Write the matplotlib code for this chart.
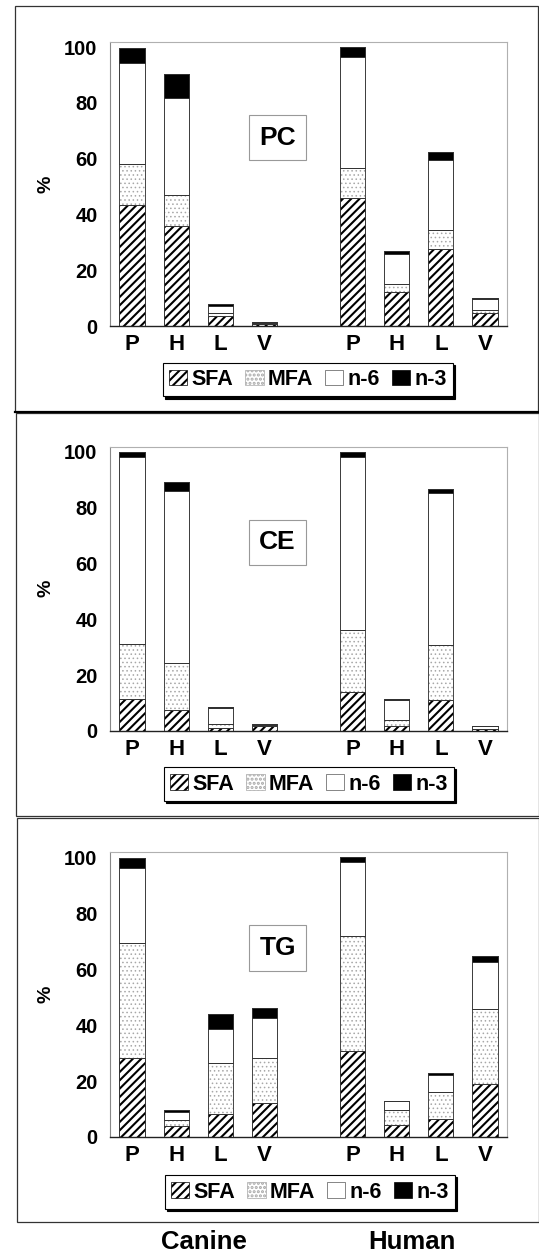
import matplotlib
import matplotlib.pyplot as plt
from matplotlib.patches import Rectangle

matplotlib.use("Agg")

plt.rcParams["font.family"] = ["Liberation Sans", "DejaVu Sans"]
plt.rcParams["font.weight"] = "bold"
plt.rcParams["hatch.linewidth"] = 1.5

# bar labels and positions (gap between species)
bar_labels = ["P", "H", "L", "V", "P", "H", "L", "V"]
bar_x = [0, 1, 2, 3, 5, 6, 7, 8]
species = ["Canine", "Human"]
series = ["SFA", "MFA", "n-6", "n-3"]

# PC (canine P,H,L,V then human P,H,L,V)
pc_sfa = [43.3, 35.9, 3.7, 0.8, 45.8, 12.2, 27.7, 4.5]
pc_mfa = [14.9, 11.2, 0.8, 0.2, 11.0, 2.7, 6.7, 1.2]
pc_n6 = [36.1, 34.6, 2.8, 0.3, 39.6, 10.8, 25.0, 3.8]
pc_n3 = [5.5, 8.5, 0.6, 0.3, 3.6, 1.3, 3.0, 0.4]

# CE
ce_sfa = [11.4, 7.6, 1.2, 1.7, 14.0, 1.7, 11.0, 0.6]
ce_mfa = [19.7, 16.9, 1.4, 0.3, 22.3, 2.4, 19.6, 0.2]
ce_n6 = [66.9, 61.5, 5.8, 0.4, 61.9, 7.1, 54.5, 0.9]
ce_n3 = [1.8, 3.0, 0.2, 0.1, 1.8, 0.4, 1.4, 0.1]

# TG
tg_sfa = [28.1, 3.8, 8.2, 12.2, 30.7, 4.4, 6.6, 19.1]
tg_mfa = [41.1, 2.4, 18.1, 16.0, 41.0, 5.2, 9.6, 26.5]
tg_n6 = [26.9, 2.8, 12.2, 14.2, 26.5, 3.2, 5.9, 17.0]
tg_n3 = [3.7, 0.6, 5.3, 3.8, 1.8, 0.1, 0.8, 1.9]

panels = [
    ("PC", [pc_sfa, pc_mfa, pc_n6, pc_n3]),
    ("CE", [ce_sfa, ce_mfa, ce_n6, ce_n3]),
    ("TG", [tg_sfa, tg_mfa, tg_n6, tg_n3]),
]

W, H = 539, 1259
fig = plt.figure(figsize=(W / 100, H / 100), dpi=100)


def px_rect(x0, y0, x1, y1):
    # pixel box (top-left origin) -> figure fraction [l, b, w, h]
    return [x0 / W, 1 - y1 / H, (x1 - x0) / W, (y1 - y0) / H]


ax_boxes = [(110, 42, 507, 326), (110, 446.5, 507, 731), (110, 852, 507, 1137)]
frame_boxes = [(15, 6, 538, 412), (16, 413, 539, 816), (17, 818, 539, 1222)]
legend_centers = [(308, 379.5), (309, 784), (310, 1192)]

styles = [
    dict(color="white", hatch="////", edge="black", hlw=1.5),
    dict(color="white", hatch="....", edge="#a8a8a8", hlw=0.6),
    dict(color="white", hatch=None, edge="#555555", hlw=1.0),
    dict(color="black", hatch=None, edge="black", hlw=1.0),
]

for i, ((name, segs), box, fbox, lc) in enumerate(
        zip(panels, ax_boxes, frame_boxes, legend_centers)):
    fr = Rectangle((fbox[0] / W, 1 - fbox[3] / H), (fbox[2] - fbox[0]) / W,
                   (fbox[3] - fbox[1]) / H, transform=fig.transFigure,
                   fill=False, edgecolor="#333333", linewidth=0.9)
    fig.add_artist(fr)
    if i == 0:
        fig.add_artist(plt.Line2D([fbox[0] / W, 1], [1 - fbox[3] / H] * 2,
                                  transform=fig.transFigure, color="black",
                                  linewidth=1.6))

    ax = fig.add_axes(px_rect(*box))
    bottoms = [0.0] * len(bar_x)
    handles = []
    for vals, st, lab in zip(segs, styles, series):
        h = ax.bar(bar_x, vals, width=0.57, bottom=bottoms, color=st["color"],
                   hatch=st["hatch"], edgecolor=st["edge"], linewidth=0.5,
                   label=lab, zorder=2)
        for p in h.patches:
            if hasattr(p, "set_hatch_linewidth"):
                p.set_hatch_linewidth(st["hlw"])
        ax.bar(bar_x, vals, width=0.57, bottom=bottoms, fill=False,
               edgecolor="#333333", linewidth=0.6, zorder=3)
        handles.append(h)
        bottoms = [b + v for b, v in zip(bottoms, vals)]

    ax.set_xlim(-0.5, 8.5)
    ax.set_ylim(0, 101.8)
    ax.set_yticks([0, 20, 40, 60, 80, 100])
    ax.set_xticks(bar_x)
    ax.set_xticklabels(bar_labels)
    ax.tick_params(axis="y", length=0, pad=9, labelsize=14.5)
    ax.tick_params(axis="x", length=0, pad=6, labelsize=16)
    for lbl in ax.get_xticklabels() + ax.get_yticklabels():
        lbl.set_fontweight("bold")
    for side in ["top", "right"]:
        ax.spines[side].set_color("#b0b0b0")
        ax.spines[side].set_linewidth(0.8)
    ax.spines["left"].set_color("#888888")
    ax.spines["left"].set_linewidth(0.8)
    ax.spines["bottom"].set_color("#222222")
    ax.spines["bottom"].set_linewidth(1.0)

    ax.set_ylabel("%", fontsize=14, fontweight="bold")
    ax.yaxis.set_label_coords(-0.139, 0.5)

    ax.text(3.3, 67.5, name, fontsize=19, fontweight="bold", ha="center",
            va="center", zorder=4,
            bbox=dict(boxstyle="square,pad=0.4", facecolor="white",
                      edgecolor="#999999", linewidth=0.8))

    leg = ax.legend(handles=handles, labels=series, ncol=4,
                    loc="center", bbox_to_anchor=(lc[0] / W, 1 - lc[1] / H),
                    bbox_transform=fig.transFigure, frameon=True,
                    fancybox=False, edgecolor="black", framealpha=1,
                    shadow={"ox": 1.5, "oy": -1.5, "shade": 1.0, "alpha": 1},
                    prop=dict(size=15.5, weight="bold"),
                    handlelength=0.85, handleheight=0.75, handletextpad=0.2,
                    columnspacing=0.55, borderpad=0.3, borderaxespad=0)
    leg.get_frame().set_linewidth(0.8)

for name, xc in zip(species, [204, 412]):
    fig.text(xc / W, 1 - 1242 / H, name, fontsize=18.5, fontweight="bold",
             ha="center", va="center")

fig.savefig("out.png", dpi=100)
